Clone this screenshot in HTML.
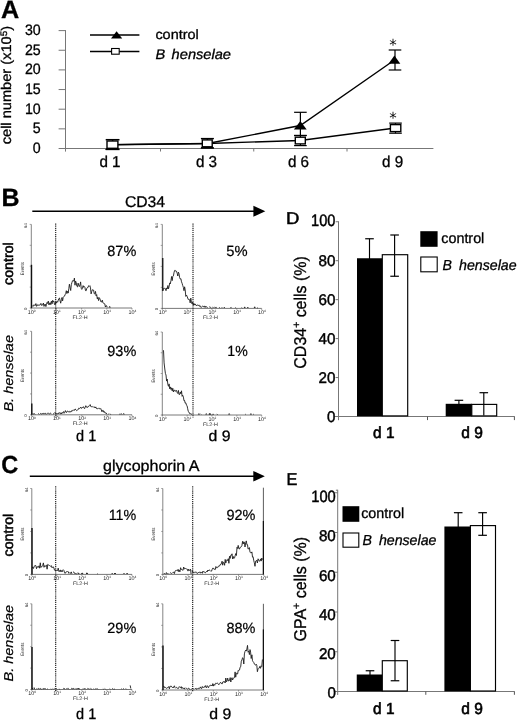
<!DOCTYPE html>
<html lang="en">
<head>
<meta charset="utf-8">
<title>Figure</title>
<style>
html,body{margin:0;padding:0;background:#fff;}
body{width:520px;height:721px;overflow:hidden;}
svg{display:block;font-family:'Liberation Sans', sans-serif;}
text{stroke:#000;stroke-width:.3px;}
</style>
</head>
<body>
<svg width="520" height="721" viewBox="0 0 520 721" font-family='"Liberation Sans", sans-serif' text-rendering="geometricPrecision">
<rect x="0" y="0" width="520" height="721" fill="#fff"/>
<text x="1.10" y="18.10" font-size="25.2" font-weight="bold">A</text>
<line x1="65.50" y1="30.10" x2="65.50" y2="151.60" stroke="#777" stroke-width="1"/>
<line x1="58.60" y1="148.50" x2="433.40" y2="148.50" stroke="#777" stroke-width="1"/>
<text x="40.70" y="153.05" font-size="15.2" text-anchor="end" textLength="7.90" lengthAdjust="spacingAndGlyphs">0</text>
<line x1="58.60" y1="128.85" x2="65.50" y2="128.85" stroke="#777" stroke-width="1"/>
<text x="40.70" y="133.40" font-size="15.2" text-anchor="end" textLength="7.90" lengthAdjust="spacingAndGlyphs">5</text>
<line x1="58.60" y1="109.20" x2="65.50" y2="109.20" stroke="#777" stroke-width="1"/>
<text x="40.70" y="113.75" font-size="15.2" text-anchor="end" textLength="15.80" lengthAdjust="spacingAndGlyphs">10</text>
<line x1="58.60" y1="89.55" x2="65.50" y2="89.55" stroke="#777" stroke-width="1"/>
<text x="40.70" y="94.10" font-size="15.2" text-anchor="end" textLength="15.80" lengthAdjust="spacingAndGlyphs">15</text>
<line x1="58.60" y1="69.90" x2="65.50" y2="69.90" stroke="#777" stroke-width="1"/>
<text x="40.70" y="74.45" font-size="15.2" text-anchor="end" textLength="15.80" lengthAdjust="spacingAndGlyphs">20</text>
<line x1="58.60" y1="50.25" x2="65.50" y2="50.25" stroke="#777" stroke-width="1"/>
<text x="40.70" y="54.80" font-size="15.2" text-anchor="end" textLength="15.80" lengthAdjust="spacingAndGlyphs">25</text>
<line x1="58.60" y1="30.60" x2="65.50" y2="30.60" stroke="#777" stroke-width="1"/>
<text x="40.70" y="35.15" font-size="15.2" text-anchor="end" textLength="15.80" lengthAdjust="spacingAndGlyphs">30</text>
<line x1="160.50" y1="148.50" x2="160.50" y2="151.50" stroke="#777" stroke-width="1"/>
<line x1="253.75" y1="148.50" x2="253.75" y2="151.50" stroke="#777" stroke-width="1"/>
<line x1="347.00" y1="148.50" x2="347.00" y2="151.50" stroke="#777" stroke-width="1"/>
<text transform="translate(11.40,144.30) rotate(-90)" x="0" y="0" font-size="14" textLength="118.40" lengthAdjust="spacingAndGlyphs">cell number (x10<tspan font-size="9.5" dy="-4.6">5</tspan><tspan dy="4.6">)</tspan></text>
<line x1="90.00" y1="35.00" x2="139.40" y2="35.00" stroke="#000" stroke-width="1.3"/>
<polygon points="116.6,31.3 111.0,38.4 122.2,38.4" fill="#000" stroke="none" stroke-width="1"/>
<line x1="90.00" y1="51.50" x2="139.40" y2="51.50" stroke="#000" stroke-width="1.3"/>
<rect x="111.60" y="48.50" width="7.60" height="5.70" fill="#fff" stroke="#000" stroke-width="1.1"/>
<text x="155.40" y="38.75" font-size="13.5" textLength="43.40" lengthAdjust="spacingAndGlyphs">control</text>
<text x="155.40" y="58.60" font-size="14" font-style="italic" textLength="75.60" lengthAdjust="spacingAndGlyphs">B<tspan dx="6.2">henselae</tspan></text>
<polyline points="112.5,144.7 207.5,143.5 300.3,125.5 395.2,59.5" fill="none" stroke="#000" stroke-width="1.4"/>
<polyline points="112.5,144.7 207.5,143.5 300.2,140.5 395.5,128.0" fill="none" stroke="#000" stroke-width="1.35"/>
<line x1="112.60" y1="139.70" x2="112.60" y2="149.40" stroke="#000" stroke-width="1.5"/>
<line x1="105.70" y1="139.70" x2="119.50" y2="139.70" stroke="#000" stroke-width="1.5"/>
<line x1="105.70" y1="149.40" x2="119.50" y2="149.40" stroke="#000" stroke-width="1.5"/>
<line x1="207.40" y1="138.60" x2="207.40" y2="147.90" stroke="#000" stroke-width="1.4"/>
<line x1="200.90" y1="138.60" x2="213.90" y2="138.60" stroke="#000" stroke-width="1.4"/>
<line x1="200.90" y1="147.90" x2="213.90" y2="147.90" stroke="#000" stroke-width="1.4"/>
<line x1="300.40" y1="112.30" x2="300.40" y2="135.60" stroke="#000" stroke-width="1.2"/>
<line x1="294.10" y1="112.30" x2="306.70" y2="112.30" stroke="#000" stroke-width="1.2"/>
<line x1="294.10" y1="135.60" x2="306.70" y2="135.60" stroke="#000" stroke-width="1.2"/>
<line x1="300.40" y1="135.40" x2="300.40" y2="145.60" stroke="#000" stroke-width="1.2"/>
<line x1="294.10" y1="135.40" x2="306.70" y2="135.40" stroke="#000" stroke-width="1.2"/>
<line x1="294.10" y1="145.60" x2="306.70" y2="145.60" stroke="#000" stroke-width="1.2"/>
<line x1="395.00" y1="50.00" x2="395.00" y2="70.00" stroke="#000" stroke-width="1.2"/>
<line x1="388.70" y1="50.00" x2="401.30" y2="50.00" stroke="#000" stroke-width="1.2"/>
<line x1="388.70" y1="70.00" x2="401.30" y2="70.00" stroke="#000" stroke-width="1.2"/>
<line x1="395.50" y1="123.10" x2="395.50" y2="133.20" stroke="#000" stroke-width="1.2"/>
<line x1="389.20" y1="123.10" x2="401.80" y2="123.10" stroke="#000" stroke-width="1.2"/>
<line x1="389.20" y1="133.20" x2="401.80" y2="133.20" stroke="#000" stroke-width="1.2"/>
<polygon points="112.4,142.0 105.1,150.0 119.7,150.0" fill="#000" stroke="none" stroke-width="1"/>
<polygon points="207.3,140.6 200.5,148.5 214.1,148.5" fill="#000" stroke="none" stroke-width="1"/>
<polygon points="300.3,121.0 293.9,129.4 306.7,129.4" fill="#000" stroke="none" stroke-width="1"/>
<polygon points="394.4,55.5 388.5,63.8 400.3,63.8" fill="#000" stroke="none" stroke-width="1"/>
<rect x="107.00" y="141.00" width="10.90" height="7.30" fill="#fff" stroke="#000" stroke-width="1.4"/>
<rect x="202.30" y="139.90" width="9.90" height="6.90" fill="#fff" stroke="#000" stroke-width="1.4"/>
<rect x="295.30" y="137.20" width="10.00" height="6.70" fill="#fff" stroke="#000" stroke-width="1.4"/>
<rect x="390.40" y="124.60" width="10.40" height="7.00" fill="#fff" stroke="#000" stroke-width="1.4"/>
<text x="393.10" y="49.70" font-size="15" text-anchor="middle" font-family="DejaVu Sans" style="stroke:none">*</text>
<text x="393.10" y="123.30" font-size="15" text-anchor="middle" font-family="DejaVu Sans" style="stroke:none">*</text>
<text x="110.00" y="167.20" font-size="15.8" text-anchor="middle" textLength="21.20" lengthAdjust="spacingAndGlyphs">d 1</text>
<text x="206.50" y="167.20" font-size="15.8" text-anchor="middle" textLength="21.20" lengthAdjust="spacingAndGlyphs">d 3</text>
<text x="298.50" y="167.20" font-size="15.8" text-anchor="middle" textLength="21.20" lengthAdjust="spacingAndGlyphs">d 6</text>
<text x="392.70" y="167.20" font-size="15.8" text-anchor="middle" textLength="21.20" lengthAdjust="spacingAndGlyphs">d 9</text>
<text x="1.60" y="206.00" font-size="25" font-weight="bold">B</text>
<line x1="32.30" y1="211.20" x2="254.40" y2="211.20" stroke="#000" stroke-width="1.45"/>
<polygon points="253.4,205.7 265.3,211.2 253.4,216.7" fill="#000" stroke="none" stroke-width="1"/>
<text x="124.90" y="206.70" font-size="15.5" textLength="40.20" lengthAdjust="spacingAndGlyphs">CD34</text>
<line x1="31.30" y1="224.40" x2="31.30" y2="308.50" stroke="#666" stroke-width="0.8"/>
<line x1="30.80" y1="308.00" x2="132.00" y2="308.00" stroke="#555" stroke-width="0.8"/>
<line x1="29.70" y1="308.00" x2="31.30" y2="308.00" stroke="#666" stroke-width="0.6"/>
<line x1="29.70" y1="287.10" x2="31.30" y2="287.10" stroke="#666" stroke-width="0.6"/>
<line x1="29.70" y1="266.20" x2="31.30" y2="266.20" stroke="#666" stroke-width="0.6"/>
<line x1="29.70" y1="245.30" x2="31.30" y2="245.30" stroke="#666" stroke-width="0.6"/>
<line x1="29.70" y1="224.40" x2="31.30" y2="224.40" stroke="#666" stroke-width="0.6"/>
<line x1="31.30" y1="308.00" x2="31.30" y2="309.60" stroke="#666" stroke-width="0.6"/>
<text x="31.60" y="313.60" font-size="5.4" text-anchor="middle" fill="#222" style="stroke:none">10<tspan font-size="3.2" dy="-1.8">0</tspan></text>
<line x1="56.48" y1="308.00" x2="56.48" y2="309.60" stroke="#666" stroke-width="0.6"/>
<text x="56.77" y="313.60" font-size="5.4" text-anchor="middle" fill="#222" style="stroke:none">10<tspan font-size="3.2" dy="-1.8">1</tspan></text>
<line x1="81.65" y1="308.00" x2="81.65" y2="309.60" stroke="#666" stroke-width="0.6"/>
<text x="81.95" y="313.60" font-size="5.4" text-anchor="middle" fill="#222" style="stroke:none">10<tspan font-size="3.2" dy="-1.8">2</tspan></text>
<line x1="106.83" y1="308.00" x2="106.83" y2="309.60" stroke="#666" stroke-width="0.6"/>
<text x="107.12" y="313.60" font-size="5.4" text-anchor="middle" fill="#222" style="stroke:none">10<tspan font-size="3.2" dy="-1.8">3</tspan></text>
<line x1="132.00" y1="308.00" x2="132.00" y2="309.60" stroke="#666" stroke-width="0.6"/>
<text x="132.30" y="313.60" font-size="5.4" text-anchor="middle" fill="#222" style="stroke:none">10<tspan font-size="3.2" dy="-1.8">4</tspan></text>
<text x="80.14" y="318.60" font-size="5.0" text-anchor="middle" textLength="15.00" lengthAdjust="spacingAndGlyphs" fill="#222" style="stroke:none">FL2-H</text>
<text transform="translate(23.70,268.71) rotate(-90)" x="0" y="0" font-size="4.9" text-anchor="middle" textLength="13.00" lengthAdjust="spacingAndGlyphs" fill="#2a2a2a" style="stroke:none">Events</text>
<text transform="translate(27.10,225.60) rotate(-90)" x="0" y="0" font-size="4.2" text-anchor="middle" fill="#222" style="stroke:none">64</text>
<text transform="translate(27.10,308.80) rotate(-90)" x="0" y="0" font-size="4.2" text-anchor="middle" fill="#222" style="stroke:none">0</text>
<polyline points="32.2,305.9 32.8,306.0 33.5,306.1 34.1,304.7 34.7,305.4 35.3,305.4 35.9,303.6 36.6,306.3 37.2,305.8 37.8,304.5 38.4,304.9 39.0,305.6 39.7,304.7 40.3,304.7 40.9,303.4 41.5,305.4 42.1,304.9 42.8,305.0 43.4,303.0 44.0,306.4 44.6,304.7 45.2,304.0 45.9,306.6 46.5,304.2 47.1,302.4 47.7,303.5 48.3,301.1 49.0,305.0 49.6,303.1 50.2,302.6 50.8,304.7 51.4,301.2 52.1,303.8 52.7,300.3 53.3,302.0 53.9,301.2 54.5,304.5 55.2,304.8 55.8,301.7 56.4,303.1 57.0,301.4 57.6,302.2 58.3,300.1 58.9,298.5 59.5,298.0 60.1,300.9 60.7,303.2 61.4,299.5 62.0,297.5 62.6,300.9 63.2,297.4 63.8,296.5 64.5,296.1 65.1,294.7 65.7,293.7 66.3,290.7 66.9,293.5 67.6,291.3 68.2,293.1 68.8,288.7 69.4,284.2 70.0,287.3 70.7,290.5 71.3,284.7 71.9,282.6 72.5,280.9 73.1,280.3 73.8,281.3 74.4,278.1 75.0,285.2 75.6,281.1 76.2,282.5 76.9,286.3 77.5,286.9 78.1,283.1 78.7,285.0 79.3,286.6 80.0,285.0 80.6,281.9 81.2,288.2 81.8,289.4 82.4,288.5 83.1,285.6 83.7,287.3 84.3,286.5 84.9,287.3 85.5,290.6 86.2,290.7 86.8,288.3 87.4,287.6 88.0,287.5 88.6,285.7 89.3,286.3 89.9,285.7 90.5,287.9 91.1,293.9 91.7,291.6 92.4,289.7 93.0,290.2 93.6,290.1 94.2,293.4 94.8,294.2 95.5,291.4 96.1,295.8 96.7,294.6 97.3,298.9 97.9,297.3 98.6,300.6 99.2,297.6 99.8,298.6 100.4,300.2 101.0,302.0 101.7,301.9 102.3,300.1 102.9,302.8 103.5,303.2 104.1,303.4 104.8,303.9 105.4,307.0 106.0,305.7 106.6,305.8 107.2,307.3" fill="none" stroke="#1c1c1c" stroke-width="0.9" stroke-linejoin="round"/>
<polyline points="109.2,307.6 109.7,306.4 110.2,307.6" fill="none" stroke="#1c1c1c" stroke-width="0.9" stroke-linejoin="round"/>
<line x1="31.50" y1="264.80" x2="31.50" y2="308.00" stroke="#111" stroke-width="1.4"/>
<line x1="162.30" y1="224.40" x2="162.30" y2="308.90" stroke="#666" stroke-width="0.8"/>
<line x1="161.80" y1="308.40" x2="261.70" y2="308.40" stroke="#555" stroke-width="0.8"/>
<line x1="160.70" y1="308.40" x2="162.30" y2="308.40" stroke="#666" stroke-width="0.6"/>
<line x1="160.70" y1="287.40" x2="162.30" y2="287.40" stroke="#666" stroke-width="0.6"/>
<line x1="160.70" y1="266.40" x2="162.30" y2="266.40" stroke="#666" stroke-width="0.6"/>
<line x1="160.70" y1="245.40" x2="162.30" y2="245.40" stroke="#666" stroke-width="0.6"/>
<line x1="160.70" y1="224.40" x2="162.30" y2="224.40" stroke="#666" stroke-width="0.6"/>
<line x1="162.30" y1="308.40" x2="162.30" y2="310.00" stroke="#666" stroke-width="0.6"/>
<text x="162.60" y="314.00" font-size="5.4" text-anchor="middle" fill="#222" style="stroke:none">10<tspan font-size="3.2" dy="-1.8">0</tspan></text>
<line x1="187.15" y1="308.40" x2="187.15" y2="310.00" stroke="#666" stroke-width="0.6"/>
<text x="187.45" y="314.00" font-size="5.4" text-anchor="middle" fill="#222" style="stroke:none">10<tspan font-size="3.2" dy="-1.8">1</tspan></text>
<line x1="212.00" y1="308.40" x2="212.00" y2="310.00" stroke="#666" stroke-width="0.6"/>
<text x="212.30" y="314.00" font-size="5.4" text-anchor="middle" fill="#222" style="stroke:none">10<tspan font-size="3.2" dy="-1.8">2</tspan></text>
<line x1="236.85" y1="308.40" x2="236.85" y2="310.00" stroke="#666" stroke-width="0.6"/>
<text x="237.15" y="314.00" font-size="5.4" text-anchor="middle" fill="#222" style="stroke:none">10<tspan font-size="3.2" dy="-1.8">3</tspan></text>
<line x1="261.70" y1="308.40" x2="261.70" y2="310.00" stroke="#666" stroke-width="0.6"/>
<text x="262.00" y="314.00" font-size="5.4" text-anchor="middle" fill="#222" style="stroke:none">10<tspan font-size="3.2" dy="-1.8">4</tspan></text>
<text x="210.51" y="319.00" font-size="5.0" text-anchor="middle" textLength="15.00" lengthAdjust="spacingAndGlyphs" fill="#222" style="stroke:none">FL2-H</text>
<text transform="translate(154.70,268.92) rotate(-90)" x="0" y="0" font-size="4.9" text-anchor="middle" textLength="13.00" lengthAdjust="spacingAndGlyphs" fill="#2a2a2a" style="stroke:none">Events</text>
<text transform="translate(158.10,225.60) rotate(-90)" x="0" y="0" font-size="4.2" text-anchor="middle" fill="#222" style="stroke:none">64</text>
<text transform="translate(158.10,309.20) rotate(-90)" x="0" y="0" font-size="4.2" text-anchor="middle" fill="#222" style="stroke:none">0</text>
<polyline points="162.9,290.7 163.5,288.5 164.1,288.7 164.8,288.2 165.4,288.6 166.0,290.7 166.6,287.9 167.2,289.0 167.9,285.5 168.5,288.8 169.1,286.6 169.7,282.9 170.3,283.9 171.0,280.4 171.6,276.5 172.2,280.6 172.8,276.3 173.4,275.9 174.1,272.2 174.7,270.4 175.3,270.4 175.9,271.5 176.5,271.3 177.2,273.3 177.8,276.0 178.4,272.1 179.0,273.6 179.6,277.5 180.3,279.1 180.9,278.7 181.5,281.8 182.1,283.3 182.7,285.4 183.4,287.5 184.0,290.7 184.6,286.8 185.2,289.9 185.8,296.4 186.5,295.1 187.1,296.3 187.7,298.0 188.3,299.6 188.9,299.2 189.6,299.7 190.2,302.9 190.8,298.1 191.4,302.2 192.0,303.8 192.7,302.2 193.3,305.4 193.9,303.5 194.5,305.1 195.1,303.9 195.8,304.9 196.4,305.8 197.0,305.0 197.6,304.9 198.2,305.6 198.9,304.9 199.5,306.3 200.1,306.3 200.7,306.0 201.3,307.9" fill="none" stroke="#1c1c1c" stroke-width="0.9" stroke-linejoin="round"/>
<polyline points="202.0,306.2 202.6,306.0 203.2,306.8 203.8,306.7 204.4,305.9 205.1,307.5 205.7,306.3 206.3,307.0 206.9,306.8 207.5,307.7" fill="none" stroke="#1c1c1c" stroke-width="0.9" stroke-linejoin="round"/>
<polyline points="209.4,307.1 210.0,306.7 210.6,307.5 211.3,308.0" fill="none" stroke="#1c1c1c" stroke-width="0.9" stroke-linejoin="round"/>
<polyline points="212.5,307.2 213.1,307.3 213.7,307.9" fill="none" stroke="#1c1c1c" stroke-width="0.9" stroke-linejoin="round"/>
<polyline points="214.4,307.3 215.0,307.1 215.6,307.5 216.2,307.3 216.8,307.9" fill="none" stroke="#1c1c1c" stroke-width="0.9" stroke-linejoin="round"/>
<polyline points="219.3,307.3 219.9,308.1" fill="none" stroke="#1c1c1c" stroke-width="0.9" stroke-linejoin="round"/>
<polyline points="221.8,307.3 222.4,308.0" fill="none" stroke="#1c1c1c" stroke-width="0.9" stroke-linejoin="round"/>
<polyline points="223.8,308.0 224.3,307.3 224.8,308.0" fill="none" stroke="#1c1c1c" stroke-width="0.9" stroke-linejoin="round"/>
<polyline points="230.5,307.6 231.1,307.4 231.7,308.0" fill="none" stroke="#1c1c1c" stroke-width="0.9" stroke-linejoin="round"/>
<polyline points="235.4,307.6 236.1,308.1" fill="none" stroke="#1c1c1c" stroke-width="0.9" stroke-linejoin="round"/>
<polyline points="241.6,307.6 242.3,308.1" fill="none" stroke="#1c1c1c" stroke-width="0.9" stroke-linejoin="round"/>
<polyline points="244.2,308.0 244.7,306.9 245.2,308.0" fill="none" stroke="#1c1c1c" stroke-width="0.9" stroke-linejoin="round"/>
<polyline points="247.3,308.0 247.8,307.2 248.3,308.0" fill="none" stroke="#1c1c1c" stroke-width="0.9" stroke-linejoin="round"/>
<polyline points="254.2,308.0 254.7,306.8 255.2,308.0" fill="none" stroke="#1c1c1c" stroke-width="0.9" stroke-linejoin="round"/>
<polyline points="257.1,307.6 257.8,308.1" fill="none" stroke="#1c1c1c" stroke-width="0.9" stroke-linejoin="round"/>
<line x1="162.70" y1="258.00" x2="162.70" y2="291.00" stroke="#222" stroke-width="1.5"/>
<line x1="31.60" y1="331.30" x2="31.60" y2="415.30" stroke="#666" stroke-width="0.8"/>
<line x1="31.10" y1="414.80" x2="132.00" y2="414.80" stroke="#555" stroke-width="0.8"/>
<line x1="30.00" y1="414.80" x2="31.60" y2="414.80" stroke="#666" stroke-width="0.6"/>
<line x1="30.00" y1="393.93" x2="31.60" y2="393.93" stroke="#666" stroke-width="0.6"/>
<line x1="30.00" y1="373.05" x2="31.60" y2="373.05" stroke="#666" stroke-width="0.6"/>
<line x1="30.00" y1="352.18" x2="31.60" y2="352.18" stroke="#666" stroke-width="0.6"/>
<line x1="30.00" y1="331.30" x2="31.60" y2="331.30" stroke="#666" stroke-width="0.6"/>
<line x1="31.60" y1="414.80" x2="31.60" y2="416.40" stroke="#666" stroke-width="0.6"/>
<text x="31.90" y="420.40" font-size="5.4" text-anchor="middle" fill="#222" style="stroke:none">10<tspan font-size="3.2" dy="-1.8">0</tspan></text>
<line x1="56.70" y1="414.80" x2="56.70" y2="416.40" stroke="#666" stroke-width="0.6"/>
<text x="57.00" y="420.40" font-size="5.4" text-anchor="middle" fill="#222" style="stroke:none">10<tspan font-size="3.2" dy="-1.8">1</tspan></text>
<line x1="81.80" y1="414.80" x2="81.80" y2="416.40" stroke="#666" stroke-width="0.6"/>
<text x="82.10" y="420.40" font-size="5.4" text-anchor="middle" fill="#222" style="stroke:none">10<tspan font-size="3.2" dy="-1.8">2</tspan></text>
<line x1="106.90" y1="414.80" x2="106.90" y2="416.40" stroke="#666" stroke-width="0.6"/>
<text x="107.20" y="420.40" font-size="5.4" text-anchor="middle" fill="#222" style="stroke:none">10<tspan font-size="3.2" dy="-1.8">3</tspan></text>
<line x1="132.00" y1="414.80" x2="132.00" y2="416.40" stroke="#666" stroke-width="0.6"/>
<text x="132.30" y="420.40" font-size="5.4" text-anchor="middle" fill="#222" style="stroke:none">10<tspan font-size="3.2" dy="-1.8">4</tspan></text>
<text x="80.29" y="425.40" font-size="5.0" text-anchor="middle" textLength="15.00" lengthAdjust="spacingAndGlyphs" fill="#222" style="stroke:none">FL2-H</text>
<text transform="translate(24.00,375.56) rotate(-90)" x="0" y="0" font-size="4.9" text-anchor="middle" textLength="13.00" lengthAdjust="spacingAndGlyphs" fill="#2a2a2a" style="stroke:none">Events</text>
<text transform="translate(27.40,332.50) rotate(-90)" x="0" y="0" font-size="4.2" text-anchor="middle" fill="#222" style="stroke:none">64</text>
<text transform="translate(27.40,415.60) rotate(-90)" x="0" y="0" font-size="4.2" text-anchor="middle" fill="#222" style="stroke:none">0</text>
<polyline points="31.9,413.3 32.5,414.1" fill="none" stroke="#1c1c1c" stroke-width="0.9" stroke-linejoin="round"/>
<polyline points="33.1,414.0 33.8,413.9 34.4,413.6 35.0,414.5" fill="none" stroke="#1c1c1c" stroke-width="0.9" stroke-linejoin="round"/>
<polyline points="38.1,413.8 38.7,413.7 39.3,414.4" fill="none" stroke="#1c1c1c" stroke-width="0.9" stroke-linejoin="round"/>
<polyline points="40.0,413.9 40.6,413.5 41.2,413.9 41.8,413.9 42.4,413.7 43.1,413.1 43.7,413.9 44.3,413.5 44.9,413.8 45.5,413.3 46.2,414.5" fill="none" stroke="#1c1c1c" stroke-width="0.9" stroke-linejoin="round"/>
<polyline points="46.8,413.8 47.4,413.2 48.0,413.5 48.6,413.3 49.3,413.9 49.9,413.5 50.5,413.2 51.1,413.6 51.7,414.2" fill="none" stroke="#1c1c1c" stroke-width="0.9" stroke-linejoin="round"/>
<polyline points="53.0,413.9 53.6,413.8 54.2,413.4 54.8,412.6 55.5,412.9 56.1,413.9 56.7,413.7 57.3,413.9 57.9,413.3 58.6,414.0 59.2,412.5 59.8,413.3 60.4,413.8 61.0,412.6 61.7,413.9 62.3,412.7 62.9,412.7 63.5,411.6 64.1,413.3 64.8,412.3 65.4,410.6 66.0,412.1 66.6,412.5 67.2,411.2 67.9,411.1 68.5,411.6 69.1,412.3 69.7,411.3 70.3,411.6 71.0,412.1 71.6,410.7 72.2,410.9 72.8,410.5 73.4,409.8 74.1,410.6 74.7,409.4 75.3,409.0 75.9,410.0 76.5,410.6 77.2,410.2 77.8,409.7 78.4,409.4 79.0,407.9 79.6,408.5 80.3,408.0 80.9,407.1 81.5,408.4 82.1,408.0 82.7,407.3 83.4,406.7 84.0,408.1 84.6,408.7 85.2,407.1 85.8,405.7 86.5,407.2 87.1,407.2 87.7,407.4 88.3,406.2 88.9,406.4 89.6,405.6 90.2,404.6 90.8,406.5 91.4,406.5 92.0,407.2 92.7,406.5 93.3,406.8 93.9,407.4 94.5,406.9 95.1,408.0 95.8,406.9 96.4,408.5 97.0,408.8 97.6,408.7 98.2,408.6 98.9,407.9 99.5,408.7 100.1,409.1 100.7,408.5 101.3,410.0 102.0,411.8 102.6,410.4 103.2,410.4 103.8,412.2 104.4,411.6 105.1,413.2 105.7,412.9 106.3,413.1 106.9,414.2" fill="none" stroke="#1c1c1c" stroke-width="0.9" stroke-linejoin="round"/>
<polyline points="108.2,413.9 108.8,414.1" fill="none" stroke="#1c1c1c" stroke-width="0.9" stroke-linejoin="round"/>
<polyline points="110.0,413.7 110.6,414.5" fill="none" stroke="#1c1c1c" stroke-width="0.9" stroke-linejoin="round"/>
<polyline points="119.3,414.0 119.9,414.4" fill="none" stroke="#1c1c1c" stroke-width="0.9" stroke-linejoin="round"/>
<polyline points="120.7,414.4 121.2,413.6 121.7,414.4" fill="none" stroke="#1c1c1c" stroke-width="0.9" stroke-linejoin="round"/>
<polyline points="123.2,414.4 123.7,413.5 124.2,414.4" fill="none" stroke="#1c1c1c" stroke-width="0.9" stroke-linejoin="round"/>
<line x1="31.80" y1="403.50" x2="31.80" y2="414.80" stroke="#111" stroke-width="1.4"/>
<line x1="162.30" y1="332.00" x2="162.30" y2="415.50" stroke="#666" stroke-width="0.8"/>
<line x1="161.80" y1="415.00" x2="261.70" y2="415.00" stroke="#555" stroke-width="0.8"/>
<line x1="160.70" y1="415.00" x2="162.30" y2="415.00" stroke="#666" stroke-width="0.6"/>
<line x1="160.70" y1="394.25" x2="162.30" y2="394.25" stroke="#666" stroke-width="0.6"/>
<line x1="160.70" y1="373.50" x2="162.30" y2="373.50" stroke="#666" stroke-width="0.6"/>
<line x1="160.70" y1="352.75" x2="162.30" y2="352.75" stroke="#666" stroke-width="0.6"/>
<line x1="160.70" y1="332.00" x2="162.30" y2="332.00" stroke="#666" stroke-width="0.6"/>
<line x1="162.30" y1="415.00" x2="162.30" y2="416.60" stroke="#666" stroke-width="0.6"/>
<text x="162.60" y="420.60" font-size="5.4" text-anchor="middle" fill="#222" style="stroke:none">10<tspan font-size="3.2" dy="-1.8">0</tspan></text>
<line x1="187.15" y1="415.00" x2="187.15" y2="416.60" stroke="#666" stroke-width="0.6"/>
<text x="187.45" y="420.60" font-size="5.4" text-anchor="middle" fill="#222" style="stroke:none">10<tspan font-size="3.2" dy="-1.8">1</tspan></text>
<line x1="212.00" y1="415.00" x2="212.00" y2="416.60" stroke="#666" stroke-width="0.6"/>
<text x="212.30" y="420.60" font-size="5.4" text-anchor="middle" fill="#222" style="stroke:none">10<tspan font-size="3.2" dy="-1.8">2</tspan></text>
<line x1="236.85" y1="415.00" x2="236.85" y2="416.60" stroke="#666" stroke-width="0.6"/>
<text x="237.15" y="420.60" font-size="5.4" text-anchor="middle" fill="#222" style="stroke:none">10<tspan font-size="3.2" dy="-1.8">3</tspan></text>
<line x1="261.70" y1="415.00" x2="261.70" y2="416.60" stroke="#666" stroke-width="0.6"/>
<text x="262.00" y="420.60" font-size="5.4" text-anchor="middle" fill="#222" style="stroke:none">10<tspan font-size="3.2" dy="-1.8">4</tspan></text>
<text x="210.51" y="425.60" font-size="5.0" text-anchor="middle" textLength="15.00" lengthAdjust="spacingAndGlyphs" fill="#222" style="stroke:none">FL2-H</text>
<text transform="translate(154.70,375.99) rotate(-90)" x="0" y="0" font-size="4.9" text-anchor="middle" textLength="13.00" lengthAdjust="spacingAndGlyphs" fill="#2a2a2a" style="stroke:none">Events</text>
<text transform="translate(158.10,333.20) rotate(-90)" x="0" y="0" font-size="4.2" text-anchor="middle" fill="#222" style="stroke:none">64</text>
<text transform="translate(158.10,415.80) rotate(-90)" x="0" y="0" font-size="4.2" text-anchor="middle" fill="#222" style="stroke:none">0</text>
<polyline points="162.9,350.9 163.5,350.5 164.1,362.9 164.8,369.0 165.4,373.4 166.0,375.0 166.6,381.1 167.2,379.0 167.9,384.7 168.5,386.3 169.1,383.9 169.7,388.8 170.3,386.9 171.0,389.5 171.6,387.8 172.2,390.9 172.8,388.3 173.4,392.0 174.1,390.0 174.7,390.3 175.3,391.4 175.9,390.3 176.5,390.5 177.2,392.6 177.8,393.5 178.4,390.4 179.0,394.5 179.6,394.5 180.3,392.0 180.9,393.8 181.5,390.8 182.1,396.3 182.7,395.2 183.4,397.1 184.0,400.8 184.6,400.5 185.2,403.2 185.8,402.8 186.5,405.2 187.1,405.9 187.7,408.8 188.3,411.5 188.9,412.0 189.6,413.6 190.2,413.6 190.8,413.8 191.4,414.1 192.0,414.6" fill="none" stroke="#1c1c1c" stroke-width="0.9" stroke-linejoin="round"/>
<polyline points="198.4,414.6 198.9,413.6 199.4,414.6" fill="none" stroke="#1c1c1c" stroke-width="0.9" stroke-linejoin="round"/>
<polyline points="200.7,414.0 201.3,414.4" fill="none" stroke="#1c1c1c" stroke-width="0.9" stroke-linejoin="round"/>
<polyline points="205.8,414.6 206.3,413.6 206.8,414.6" fill="none" stroke="#1c1c1c" stroke-width="0.9" stroke-linejoin="round"/>
<polyline points="208.9,414.6 209.4,413.6 209.9,414.6" fill="none" stroke="#1c1c1c" stroke-width="0.9" stroke-linejoin="round"/>
<polyline points="209.5,414.6 210.0,413.5 210.5,414.6" fill="none" stroke="#1c1c1c" stroke-width="0.9" stroke-linejoin="round"/>
<polyline points="210.6,414.2 211.3,414.7" fill="none" stroke="#1c1c1c" stroke-width="0.9" stroke-linejoin="round"/>
<polyline points="212.6,414.6 213.1,413.9 213.6,414.6" fill="none" stroke="#1c1c1c" stroke-width="0.9" stroke-linejoin="round"/>
<polyline points="216.8,413.9 217.5,414.7" fill="none" stroke="#1c1c1c" stroke-width="0.9" stroke-linejoin="round"/>
<polyline points="228.7,414.6 229.2,413.6 229.7,414.6" fill="none" stroke="#1c1c1c" stroke-width="0.9" stroke-linejoin="round"/>
<polyline points="245.4,414.2 246.0,414.7" fill="none" stroke="#1c1c1c" stroke-width="0.9" stroke-linejoin="round"/>
<polyline points="250.4,414.6 250.9,413.6 251.4,414.6" fill="none" stroke="#1c1c1c" stroke-width="0.9" stroke-linejoin="round"/>
<polyline points="253.4,414.2 254.0,414.7" fill="none" stroke="#1c1c1c" stroke-width="0.9" stroke-linejoin="round"/>
<line x1="55.70" y1="223.50" x2="55.70" y2="417.50" stroke="#111" stroke-width="1.1" stroke-dasharray="1.2 0.9"/>
<line x1="193.00" y1="223.50" x2="193.00" y2="417.50" stroke="#111" stroke-width="1.1" stroke-dasharray="1.2 0.9"/>
<text x="107.30" y="255.50" font-size="14.8" textLength="29.00" lengthAdjust="spacingAndGlyphs" style="stroke-width:.2px">87%</text>
<text x="226.30" y="255.50" font-size="14.8" textLength="21.30" lengthAdjust="spacingAndGlyphs" style="stroke-width:.2px">5%</text>
<text x="107.30" y="355.70" font-size="14.8" textLength="29.00" lengthAdjust="spacingAndGlyphs" style="stroke-width:.2px">93%</text>
<text x="227.30" y="355.70" font-size="14.8" textLength="20.40" lengthAdjust="spacingAndGlyphs" style="stroke-width:.2px">1%</text>
<text transform="translate(12.60,285.00) rotate(-90)" x="0" y="0" font-size="14.0" textLength="42.80" lengthAdjust="spacingAndGlyphs" style="stroke-width:.5px">control</text>
<text transform="translate(13.40,411.60) rotate(-90)" x="0" y="0" font-size="12.9" font-style="italic" textLength="76.60" lengthAdjust="spacingAndGlyphs" style="stroke-width:.2px">B. henselae</text>
<text x="86.20" y="441.30" font-size="15.2" text-anchor="middle" textLength="20.20" lengthAdjust="spacingAndGlyphs">d 1</text>
<text x="219.50" y="441.30" font-size="15.2" text-anchor="middle" textLength="22.00" lengthAdjust="spacingAndGlyphs">d 9</text>
<text x="1.30" y="473.10" font-size="24.8" font-weight="bold" textLength="17.00" lengthAdjust="spacingAndGlyphs">C</text>
<line x1="29.80" y1="476.30" x2="254.30" y2="476.30" stroke="#000" stroke-width="1.45"/>
<polygon points="253.3,471.0 264.8,476.3 253.3,481.6" fill="#000" stroke="none" stroke-width="1"/>
<text x="103.10" y="471.00" font-size="15.5" textLength="96.40" lengthAdjust="spacingAndGlyphs">glycophorin A</text>
<line x1="31.80" y1="488.50" x2="31.80" y2="574.90" stroke="#666" stroke-width="0.8"/>
<line x1="31.30" y1="574.40" x2="132.00" y2="574.40" stroke="#555" stroke-width="0.8"/>
<line x1="30.20" y1="574.40" x2="31.80" y2="574.40" stroke="#666" stroke-width="0.6"/>
<line x1="30.20" y1="552.92" x2="31.80" y2="552.92" stroke="#666" stroke-width="0.6"/>
<line x1="30.20" y1="531.45" x2="31.80" y2="531.45" stroke="#666" stroke-width="0.6"/>
<line x1="30.20" y1="509.98" x2="31.80" y2="509.98" stroke="#666" stroke-width="0.6"/>
<line x1="30.20" y1="488.50" x2="31.80" y2="488.50" stroke="#666" stroke-width="0.6"/>
<line x1="31.80" y1="574.40" x2="31.80" y2="576.00" stroke="#666" stroke-width="0.6"/>
<text x="32.10" y="580.00" font-size="5.4" text-anchor="middle" fill="#222" style="stroke:none">10<tspan font-size="3.2" dy="-1.8">0</tspan></text>
<line x1="56.85" y1="574.40" x2="56.85" y2="576.00" stroke="#666" stroke-width="0.6"/>
<text x="57.15" y="580.00" font-size="5.4" text-anchor="middle" fill="#222" style="stroke:none">10<tspan font-size="3.2" dy="-1.8">1</tspan></text>
<line x1="81.90" y1="574.40" x2="81.90" y2="576.00" stroke="#666" stroke-width="0.6"/>
<text x="82.20" y="580.00" font-size="5.4" text-anchor="middle" fill="#222" style="stroke:none">10<tspan font-size="3.2" dy="-1.8">2</tspan></text>
<line x1="106.95" y1="574.40" x2="106.95" y2="576.00" stroke="#666" stroke-width="0.6"/>
<text x="107.25" y="580.00" font-size="5.4" text-anchor="middle" fill="#222" style="stroke:none">10<tspan font-size="3.2" dy="-1.8">3</tspan></text>
<line x1="132.00" y1="574.40" x2="132.00" y2="576.00" stroke="#666" stroke-width="0.6"/>
<text x="132.30" y="580.00" font-size="5.4" text-anchor="middle" fill="#222" style="stroke:none">10<tspan font-size="3.2" dy="-1.8">4</tspan></text>
<text x="80.40" y="585.00" font-size="5.0" text-anchor="middle" textLength="15.00" lengthAdjust="spacingAndGlyphs" fill="#222" style="stroke:none">FL2-H</text>
<text transform="translate(24.20,534.03) rotate(-90)" x="0" y="0" font-size="4.9" text-anchor="middle" textLength="13.00" lengthAdjust="spacingAndGlyphs" fill="#2a2a2a" style="stroke:none">Events</text>
<text transform="translate(27.60,489.70) rotate(-90)" x="0" y="0" font-size="4.2" text-anchor="middle" fill="#222" style="stroke:none">64</text>
<text transform="translate(27.60,575.20) rotate(-90)" x="0" y="0" font-size="4.2" text-anchor="middle" fill="#222" style="stroke:none">0</text>
<polyline points="32.2,568.3 32.8,566.9 33.4,568.5 34.1,566.8 34.7,565.9 35.3,565.1 35.9,565.9 36.5,568.7 37.2,566.5 37.8,567.1 38.4,567.3 39.0,565.8 39.6,568.2 40.3,562.8 40.9,567.5 41.5,566.6 42.1,566.5 42.7,565.4 43.4,562.9 44.0,567.3 44.6,565.7 45.2,566.5 45.8,565.5 46.5,565.2 47.1,569.2 47.7,564.4 48.3,564.9 48.9,565.1 49.6,565.6 50.2,566.1 50.8,566.2 51.4,565.7 52.0,567.8 52.7,567.1 53.3,566.8 53.9,568.0 54.5,570.2 55.1,569.8 55.8,570.9 56.4,570.5 57.0,570.1 57.6,570.6 58.2,568.1 58.9,571.4 59.5,570.6 60.1,571.9 60.7,570.0 61.3,570.4 62.0,572.0 62.6,570.3 63.2,569.7 63.8,570.3 64.4,572.1 65.1,573.4 65.7,572.3 66.3,572.0 66.9,571.7 67.5,571.0 68.2,571.8 68.8,573.3 69.4,572.7 70.0,573.4 70.6,573.2 71.3,571.9 71.9,573.9" fill="none" stroke="#1c1c1c" stroke-width="0.9" stroke-linejoin="round"/>
<polyline points="73.1,572.1 73.7,571.9 74.4,573.3 75.0,573.2 75.6,573.5 76.2,573.6 76.8,573.9" fill="none" stroke="#1c1c1c" stroke-width="0.9" stroke-linejoin="round"/>
<polyline points="77.5,573.2 78.1,572.7 78.7,574.1" fill="none" stroke="#1c1c1c" stroke-width="0.9" stroke-linejoin="round"/>
<polyline points="79.3,573.5 79.9,574.1" fill="none" stroke="#1c1c1c" stroke-width="0.9" stroke-linejoin="round"/>
<polyline points="81.2,573.2 81.8,574.1" fill="none" stroke="#1c1c1c" stroke-width="0.9" stroke-linejoin="round"/>
<polyline points="81.9,574.0 82.4,572.9 82.9,574.0" fill="none" stroke="#1c1c1c" stroke-width="0.9" stroke-linejoin="round"/>
<polyline points="86.3,574.0 86.8,572.8 87.3,574.0" fill="none" stroke="#1c1c1c" stroke-width="0.9" stroke-linejoin="round"/>
<polyline points="86.9,574.0 87.4,573.3 87.9,574.0" fill="none" stroke="#1c1c1c" stroke-width="0.9" stroke-linejoin="round"/>
<polyline points="97.3,573.6 97.9,574.1" fill="none" stroke="#1c1c1c" stroke-width="0.9" stroke-linejoin="round"/>
<polyline points="111.7,574.0 112.2,573.3 112.7,574.0" fill="none" stroke="#1c1c1c" stroke-width="0.9" stroke-linejoin="round"/>
<polyline points="114.2,574.0 114.7,573.1 115.2,574.0" fill="none" stroke="#1c1c1c" stroke-width="0.9" stroke-linejoin="round"/>
<polyline points="114.8,574.0 115.3,573.2 115.8,574.0" fill="none" stroke="#1c1c1c" stroke-width="0.9" stroke-linejoin="round"/>
<polyline points="123.5,574.0 124.0,573.3 124.5,574.0" fill="none" stroke="#1c1c1c" stroke-width="0.9" stroke-linejoin="round"/>
<polyline points="126.6,574.0 127.1,573.1 127.6,574.0" fill="none" stroke="#1c1c1c" stroke-width="0.9" stroke-linejoin="round"/>
<line x1="32.00" y1="528.00" x2="32.00" y2="574.40" stroke="#111" stroke-width="1.4"/>
<line x1="162.80" y1="488.50" x2="162.80" y2="574.90" stroke="#666" stroke-width="0.8"/>
<line x1="162.30" y1="574.40" x2="263.80" y2="574.40" stroke="#555" stroke-width="0.8"/>
<line x1="161.20" y1="574.40" x2="162.80" y2="574.40" stroke="#666" stroke-width="0.6"/>
<line x1="161.20" y1="552.92" x2="162.80" y2="552.92" stroke="#666" stroke-width="0.6"/>
<line x1="161.20" y1="531.45" x2="162.80" y2="531.45" stroke="#666" stroke-width="0.6"/>
<line x1="161.20" y1="509.98" x2="162.80" y2="509.98" stroke="#666" stroke-width="0.6"/>
<line x1="161.20" y1="488.50" x2="162.80" y2="488.50" stroke="#666" stroke-width="0.6"/>
<line x1="162.80" y1="574.40" x2="162.80" y2="576.00" stroke="#666" stroke-width="0.6"/>
<text x="163.10" y="580.00" font-size="5.4" text-anchor="middle" fill="#222" style="stroke:none">10<tspan font-size="3.2" dy="-1.8">0</tspan></text>
<line x1="188.05" y1="574.40" x2="188.05" y2="576.00" stroke="#666" stroke-width="0.6"/>
<text x="188.35" y="580.00" font-size="5.4" text-anchor="middle" fill="#222" style="stroke:none">10<tspan font-size="3.2" dy="-1.8">1</tspan></text>
<line x1="213.30" y1="574.40" x2="213.30" y2="576.00" stroke="#666" stroke-width="0.6"/>
<text x="213.60" y="580.00" font-size="5.4" text-anchor="middle" fill="#222" style="stroke:none">10<tspan font-size="3.2" dy="-1.8">2</tspan></text>
<line x1="238.55" y1="574.40" x2="238.55" y2="576.00" stroke="#666" stroke-width="0.6"/>
<text x="238.85" y="580.00" font-size="5.4" text-anchor="middle" fill="#222" style="stroke:none">10<tspan font-size="3.2" dy="-1.8">3</tspan></text>
<line x1="263.80" y1="574.40" x2="263.80" y2="576.00" stroke="#666" stroke-width="0.6"/>
<text x="264.10" y="580.00" font-size="5.4" text-anchor="middle" fill="#222" style="stroke:none">10<tspan font-size="3.2" dy="-1.8">4</tspan></text>
<text x="211.79" y="585.00" font-size="5.0" text-anchor="middle" textLength="15.00" lengthAdjust="spacingAndGlyphs" fill="#222" style="stroke:none">FL2-H</text>
<text transform="translate(155.20,534.03) rotate(-90)" x="0" y="0" font-size="4.9" text-anchor="middle" textLength="13.00" lengthAdjust="spacingAndGlyphs" fill="#2a2a2a" style="stroke:none">Events</text>
<text transform="translate(158.60,489.70) rotate(-90)" x="0" y="0" font-size="4.2" text-anchor="middle" fill="#222" style="stroke:none">64</text>
<text transform="translate(158.60,575.20) rotate(-90)" x="0" y="0" font-size="4.2" text-anchor="middle" fill="#222" style="stroke:none">0</text>
<polyline points="163.8,573.5 164.4,573.5 165.1,573.6 165.7,573.9" fill="none" stroke="#1c1c1c" stroke-width="0.9" stroke-linejoin="round"/>
<polyline points="166.3,572.3 166.9,574.1" fill="none" stroke="#1c1c1c" stroke-width="0.9" stroke-linejoin="round"/>
<polyline points="167.5,573.3 168.2,574.1" fill="none" stroke="#1c1c1c" stroke-width="0.9" stroke-linejoin="round"/>
<polyline points="168.8,573.5 169.4,574.1" fill="none" stroke="#1c1c1c" stroke-width="0.9" stroke-linejoin="round"/>
<polyline points="170.0,573.3 170.6,572.8 171.3,573.3 171.9,573.9" fill="none" stroke="#1c1c1c" stroke-width="0.9" stroke-linejoin="round"/>
<polyline points="172.5,572.8 173.1,572.7 173.7,571.9 174.4,573.6 175.0,571.2 175.6,570.7 176.2,570.1 176.8,570.6 177.5,570.9 178.1,569.3 178.7,571.6 179.3,570.2 179.9,571.8 180.6,567.7 181.2,569.6 181.8,569.4 182.4,569.9 183.0,570.4 183.7,567.0 184.3,568.9 184.9,568.9 185.5,568.0 186.1,568.6 186.8,569.4 187.4,569.3 188.0,571.1 188.6,569.2 189.2,570.3 189.9,570.3 190.5,569.2 191.1,574.0" fill="none" stroke="#1c1c1c" stroke-width="0.9" stroke-linejoin="round"/>
<polyline points="191.7,570.8 192.3,570.6 193.0,573.1 193.6,572.1 194.2,572.6 194.8,572.2 195.4,572.3 196.1,571.8 196.7,572.6 197.3,573.6 197.9,572.7 198.5,572.5 199.2,572.5 199.8,571.8 200.4,573.2 201.0,572.1 201.6,572.5 202.3,573.3 202.9,571.2 203.5,571.9 204.1,571.5 204.7,572.5 205.4,572.8 206.0,571.9 206.6,571.4 207.2,572.0 207.8,570.0 208.5,571.0 209.1,569.9 209.7,570.2 210.3,570.7 210.9,571.3 211.6,571.0 212.2,569.3 212.8,568.1 213.4,568.2 214.0,569.4 214.7,569.2 215.3,569.5 215.9,566.5 216.5,567.8 217.1,568.0 217.8,567.3 218.4,566.1 219.0,566.3 219.6,566.0 220.2,564.5 220.9,564.5 221.5,563.0 222.1,561.2 222.7,565.2 223.3,562.2 224.0,562.7 224.6,565.3 225.2,559.4 225.8,563.0 226.4,560.6 227.1,559.7 227.7,560.7 228.3,558.7 228.9,563.3 229.5,556.3 230.2,558.4 230.8,555.2 231.4,555.3 232.0,553.8 232.6,558.9 233.3,556.5 233.9,558.5 234.5,557.9 235.1,555.9 235.7,553.6 236.4,555.5 237.0,547.3 237.6,548.5 238.2,545.4 238.8,548.6 239.5,549.0 240.1,547.3 240.7,547.2 241.3,546.7 241.9,545.6 242.6,541.3 243.2,544.0 243.8,541.8 244.4,542.2 245.0,547.0 245.7,542.6 246.3,540.9 246.9,544.7 247.5,544.7 248.1,549.1 248.8,548.6 249.4,547.6 250.0,552.1 250.6,552.8 251.2,553.0 251.9,551.9 252.5,557.1 253.1,556.7 253.7,560.2 254.3,562.7 255.0,566.3 255.6,561.2 256.2,561.2 256.8,560.2 257.4,563.0 258.1,558.8 258.7,560.2 259.3,561.1 259.9,561.2 260.5,558.9 261.2,561.1 261.8,558.0 262.4,559.8" fill="none" stroke="#1c1c1c" stroke-width="0.9" stroke-linejoin="round"/>
<line x1="263.40" y1="487.70" x2="263.40" y2="574.40" stroke="#333" stroke-width="0.8"/>
<line x1="263.40" y1="521.00" x2="263.40" y2="574.40" stroke="#111" stroke-width="1.25"/>
<line x1="31.80" y1="603.80" x2="31.80" y2="690.00" stroke="#666" stroke-width="0.8"/>
<line x1="31.30" y1="689.50" x2="132.00" y2="689.50" stroke="#555" stroke-width="0.8"/>
<line x1="30.20" y1="689.50" x2="31.80" y2="689.50" stroke="#666" stroke-width="0.6"/>
<line x1="30.20" y1="668.08" x2="31.80" y2="668.08" stroke="#666" stroke-width="0.6"/>
<line x1="30.20" y1="646.65" x2="31.80" y2="646.65" stroke="#666" stroke-width="0.6"/>
<line x1="30.20" y1="625.22" x2="31.80" y2="625.22" stroke="#666" stroke-width="0.6"/>
<line x1="30.20" y1="603.80" x2="31.80" y2="603.80" stroke="#666" stroke-width="0.6"/>
<line x1="31.80" y1="689.50" x2="31.80" y2="691.10" stroke="#666" stroke-width="0.6"/>
<text x="32.10" y="695.10" font-size="5.4" text-anchor="middle" fill="#222" style="stroke:none">10<tspan font-size="3.2" dy="-1.8">0</tspan></text>
<line x1="56.85" y1="689.50" x2="56.85" y2="691.10" stroke="#666" stroke-width="0.6"/>
<text x="57.15" y="695.10" font-size="5.4" text-anchor="middle" fill="#222" style="stroke:none">10<tspan font-size="3.2" dy="-1.8">1</tspan></text>
<line x1="81.90" y1="689.50" x2="81.90" y2="691.10" stroke="#666" stroke-width="0.6"/>
<text x="82.20" y="695.10" font-size="5.4" text-anchor="middle" fill="#222" style="stroke:none">10<tspan font-size="3.2" dy="-1.8">2</tspan></text>
<line x1="106.95" y1="689.50" x2="106.95" y2="691.10" stroke="#666" stroke-width="0.6"/>
<text x="107.25" y="695.10" font-size="5.4" text-anchor="middle" fill="#222" style="stroke:none">10<tspan font-size="3.2" dy="-1.8">3</tspan></text>
<line x1="132.00" y1="689.50" x2="132.00" y2="691.10" stroke="#666" stroke-width="0.6"/>
<text x="132.30" y="695.10" font-size="5.4" text-anchor="middle" fill="#222" style="stroke:none">10<tspan font-size="3.2" dy="-1.8">4</tspan></text>
<text x="80.40" y="700.10" font-size="5.0" text-anchor="middle" textLength="15.00" lengthAdjust="spacingAndGlyphs" fill="#222" style="stroke:none">FL2-H</text>
<text transform="translate(24.20,649.22) rotate(-90)" x="0" y="0" font-size="4.9" text-anchor="middle" textLength="13.00" lengthAdjust="spacingAndGlyphs" fill="#2a2a2a" style="stroke:none">Events</text>
<text transform="translate(27.60,605.00) rotate(-90)" x="0" y="0" font-size="4.2" text-anchor="middle" fill="#222" style="stroke:none">64</text>
<text transform="translate(27.60,690.30) rotate(-90)" x="0" y="0" font-size="4.2" text-anchor="middle" fill="#222" style="stroke:none">0</text>
<polyline points="32.2,688.0 32.8,689.1" fill="none" stroke="#1c1c1c" stroke-width="0.9" stroke-linejoin="round"/>
<polyline points="33.4,688.4 34.1,687.7 34.7,689.2" fill="none" stroke="#1c1c1c" stroke-width="0.9" stroke-linejoin="round"/>
<polyline points="36.5,688.7 37.2,688.8" fill="none" stroke="#1c1c1c" stroke-width="0.9" stroke-linejoin="round"/>
<polyline points="37.8,688.6 38.4,688.4 39.0,689.2" fill="none" stroke="#1c1c1c" stroke-width="0.9" stroke-linejoin="round"/>
<polyline points="39.6,688.6 40.3,688.6 40.9,688.6 41.5,689.2" fill="none" stroke="#1c1c1c" stroke-width="0.9" stroke-linejoin="round"/>
<polyline points="42.7,688.7 43.4,688.9" fill="none" stroke="#1c1c1c" stroke-width="0.9" stroke-linejoin="round"/>
<polyline points="43.5,689.1 44.0,688.3 44.5,689.1" fill="none" stroke="#1c1c1c" stroke-width="0.9" stroke-linejoin="round"/>
<polyline points="45.2,688.3 45.8,689.2" fill="none" stroke="#1c1c1c" stroke-width="0.9" stroke-linejoin="round"/>
<polyline points="47.1,688.7 47.7,688.9" fill="none" stroke="#1c1c1c" stroke-width="0.9" stroke-linejoin="round"/>
<polyline points="50.8,688.7 51.4,689.2" fill="none" stroke="#1c1c1c" stroke-width="0.9" stroke-linejoin="round"/>
<polyline points="52.7,688.5 53.3,688.9" fill="none" stroke="#1c1c1c" stroke-width="0.9" stroke-linejoin="round"/>
<polyline points="54.5,688.4 55.1,688.9" fill="none" stroke="#1c1c1c" stroke-width="0.9" stroke-linejoin="round"/>
<polyline points="56.4,688.4 57.0,688.9" fill="none" stroke="#1c1c1c" stroke-width="0.9" stroke-linejoin="round"/>
<polyline points="58.9,688.6 59.5,689.2" fill="none" stroke="#1c1c1c" stroke-width="0.9" stroke-linejoin="round"/>
<polyline points="63.2,688.3 63.8,688.5 64.4,688.6 65.1,688.9" fill="none" stroke="#1c1c1c" stroke-width="0.9" stroke-linejoin="round"/>
<polyline points="66.3,688.2 66.9,688.8" fill="none" stroke="#1c1c1c" stroke-width="0.9" stroke-linejoin="round"/>
<polyline points="67.5,688.4 68.2,688.3 68.8,689.2" fill="none" stroke="#1c1c1c" stroke-width="0.9" stroke-linejoin="round"/>
<polyline points="71.3,688.5 71.9,688.0 72.5,689.2" fill="none" stroke="#1c1c1c" stroke-width="0.9" stroke-linejoin="round"/>
<polyline points="73.1,688.7 73.7,688.3 74.4,689.1" fill="none" stroke="#1c1c1c" stroke-width="0.9" stroke-linejoin="round"/>
<polyline points="75.6,688.5 76.2,688.7 76.8,688.9" fill="none" stroke="#1c1c1c" stroke-width="0.9" stroke-linejoin="round"/>
<polyline points="77.6,689.1 78.1,688.0 78.6,689.1" fill="none" stroke="#1c1c1c" stroke-width="0.9" stroke-linejoin="round"/>
<polyline points="78.7,688.7 79.3,688.7 79.9,689.1" fill="none" stroke="#1c1c1c" stroke-width="0.9" stroke-linejoin="round"/>
<polyline points="83.0,688.4 83.7,689.2" fill="none" stroke="#1c1c1c" stroke-width="0.9" stroke-linejoin="round"/>
<polyline points="84.3,688.3 84.9,689.0" fill="none" stroke="#1c1c1c" stroke-width="0.9" stroke-linejoin="round"/>
<polyline points="85.5,688.6 86.1,689.1" fill="none" stroke="#1c1c1c" stroke-width="0.9" stroke-linejoin="round"/>
<polyline points="87.4,688.3 88.0,688.9" fill="none" stroke="#1c1c1c" stroke-width="0.9" stroke-linejoin="round"/>
<polyline points="88.6,688.2 89.2,689.2" fill="none" stroke="#1c1c1c" stroke-width="0.9" stroke-linejoin="round"/>
<polyline points="90.5,688.4 91.1,688.7 91.7,689.2" fill="none" stroke="#1c1c1c" stroke-width="0.9" stroke-linejoin="round"/>
<polyline points="93.6,688.7 94.2,689.0" fill="none" stroke="#1c1c1c" stroke-width="0.9" stroke-linejoin="round"/>
<polyline points="95.4,688.7 96.1,688.9" fill="none" stroke="#1c1c1c" stroke-width="0.9" stroke-linejoin="round"/>
<polyline points="96.7,688.6 97.3,688.6 97.9,689.2" fill="none" stroke="#1c1c1c" stroke-width="0.9" stroke-linejoin="round"/>
<polyline points="102.9,688.7 103.5,689.2" fill="none" stroke="#1c1c1c" stroke-width="0.9" stroke-linejoin="round"/>
<polyline points="104.7,688.5 105.4,689.0" fill="none" stroke="#1c1c1c" stroke-width="0.9" stroke-linejoin="round"/>
<polyline points="109.7,688.6 110.3,689.1" fill="none" stroke="#1c1c1c" stroke-width="0.9" stroke-linejoin="round"/>
<polyline points="112.2,688.5 112.8,688.7 113.4,689.2" fill="none" stroke="#1c1c1c" stroke-width="0.9" stroke-linejoin="round"/>
<polyline points="114.0,688.7 114.7,689.2" fill="none" stroke="#1c1c1c" stroke-width="0.9" stroke-linejoin="round"/>
<polyline points="121.5,688.7 122.1,689.1" fill="none" stroke="#1c1c1c" stroke-width="0.9" stroke-linejoin="round"/>
<polyline points="123.3,688.5 124.0,689.1" fill="none" stroke="#1c1c1c" stroke-width="0.9" stroke-linejoin="round"/>
<polyline points="125.8,688.5 126.4,689.2" fill="none" stroke="#1c1c1c" stroke-width="0.9" stroke-linejoin="round"/>
<polyline points="130.2,685.4 130.8,688.5" fill="none" stroke="#1c1c1c" stroke-width="0.9" stroke-linejoin="round"/>
<line x1="32.00" y1="647.00" x2="32.00" y2="689.50" stroke="#111" stroke-width="1.4"/>
<line x1="162.80" y1="603.80" x2="162.80" y2="690.50" stroke="#666" stroke-width="0.8"/>
<line x1="162.30" y1="690.00" x2="263.80" y2="690.00" stroke="#555" stroke-width="0.8"/>
<line x1="161.20" y1="690.00" x2="162.80" y2="690.00" stroke="#666" stroke-width="0.6"/>
<line x1="161.20" y1="668.45" x2="162.80" y2="668.45" stroke="#666" stroke-width="0.6"/>
<line x1="161.20" y1="646.90" x2="162.80" y2="646.90" stroke="#666" stroke-width="0.6"/>
<line x1="161.20" y1="625.35" x2="162.80" y2="625.35" stroke="#666" stroke-width="0.6"/>
<line x1="161.20" y1="603.80" x2="162.80" y2="603.80" stroke="#666" stroke-width="0.6"/>
<line x1="162.80" y1="690.00" x2="162.80" y2="691.60" stroke="#666" stroke-width="0.6"/>
<text x="163.10" y="695.60" font-size="5.4" text-anchor="middle" fill="#222" style="stroke:none">10<tspan font-size="3.2" dy="-1.8">0</tspan></text>
<line x1="188.05" y1="690.00" x2="188.05" y2="691.60" stroke="#666" stroke-width="0.6"/>
<text x="188.35" y="695.60" font-size="5.4" text-anchor="middle" fill="#222" style="stroke:none">10<tspan font-size="3.2" dy="-1.8">1</tspan></text>
<line x1="213.30" y1="690.00" x2="213.30" y2="691.60" stroke="#666" stroke-width="0.6"/>
<text x="213.60" y="695.60" font-size="5.4" text-anchor="middle" fill="#222" style="stroke:none">10<tspan font-size="3.2" dy="-1.8">2</tspan></text>
<line x1="238.55" y1="690.00" x2="238.55" y2="691.60" stroke="#666" stroke-width="0.6"/>
<text x="238.85" y="695.60" font-size="5.4" text-anchor="middle" fill="#222" style="stroke:none">10<tspan font-size="3.2" dy="-1.8">3</tspan></text>
<line x1="263.80" y1="690.00" x2="263.80" y2="691.60" stroke="#666" stroke-width="0.6"/>
<text x="264.10" y="695.60" font-size="5.4" text-anchor="middle" fill="#222" style="stroke:none">10<tspan font-size="3.2" dy="-1.8">4</tspan></text>
<text x="211.79" y="700.60" font-size="5.0" text-anchor="middle" textLength="15.00" lengthAdjust="spacingAndGlyphs" fill="#222" style="stroke:none">FL2-H</text>
<text transform="translate(155.20,649.49) rotate(-90)" x="0" y="0" font-size="4.9" text-anchor="middle" textLength="13.00" lengthAdjust="spacingAndGlyphs" fill="#2a2a2a" style="stroke:none">Events</text>
<text transform="translate(158.60,605.00) rotate(-90)" x="0" y="0" font-size="4.2" text-anchor="middle" fill="#222" style="stroke:none">64</text>
<text transform="translate(158.60,690.80) rotate(-90)" x="0" y="0" font-size="4.2" text-anchor="middle" fill="#222" style="stroke:none">0</text>
<polyline points="163.2,686.6 163.8,686.0 164.4,687.7 165.1,687.4 165.7,687.6 166.3,688.4 166.9,688.1 167.5,687.9 168.2,687.0 168.8,686.6 169.4,688.8 170.0,686.2 170.6,686.3 171.3,686.2 171.9,687.2 172.5,687.4 173.1,688.0 173.7,687.0 174.4,685.8 175.0,687.6 175.6,688.2 176.2,687.5 176.8,687.4 177.5,688.0 178.1,688.7 178.7,687.6 179.3,686.6 179.9,687.4 180.6,687.7 181.2,686.6 181.8,688.5 182.4,687.5 183.0,688.5 183.7,688.3 184.3,688.0 184.9,689.4" fill="none" stroke="#1c1c1c" stroke-width="0.9" stroke-linejoin="round"/>
<polyline points="185.5,688.0 186.1,688.0 186.8,688.7 187.4,689.1 188.0,688.6 188.6,688.1 189.2,689.2 189.9,689.2 190.5,689.7" fill="none" stroke="#1c1c1c" stroke-width="0.9" stroke-linejoin="round"/>
<polyline points="191.1,688.9 191.7,689.2 192.3,688.8 193.0,688.4 193.6,689.2 194.2,689.6" fill="none" stroke="#1c1c1c" stroke-width="0.9" stroke-linejoin="round"/>
<polyline points="194.8,688.5 195.4,688.6 196.1,688.2 196.7,689.7" fill="none" stroke="#1c1c1c" stroke-width="0.9" stroke-linejoin="round"/>
<polyline points="197.3,688.4 197.9,689.1 198.5,688.2 199.2,688.7 199.8,688.2 200.4,686.9 201.0,688.4 201.6,688.6 202.3,686.5 202.9,687.7 203.5,687.4 204.1,686.7 204.7,687.2 205.4,685.6 206.0,687.3 206.6,687.9 207.2,685.6 207.8,686.5 208.5,687.7 209.1,686.3 209.7,685.5 210.3,685.0 210.9,685.8 211.6,685.4 212.2,686.0 212.8,683.6 213.4,686.1 214.0,684.4 214.7,685.3 215.3,683.7 215.9,682.9 216.5,683.5 217.1,682.9 217.8,683.4 218.4,684.4 219.0,684.7 219.6,683.6 220.2,682.6 220.9,682.5 221.5,683.6 222.1,684.0 222.7,682.1 223.3,682.2 224.0,681.2 224.6,682.2 225.2,683.0 225.8,678.0 226.4,681.8 227.1,680.6 227.7,678.1 228.3,681.2 228.9,680.2 229.5,680.4 230.2,677.6 230.8,682.0 231.4,678.8 232.0,677.7 232.6,680.0 233.3,678.2 233.9,677.8 234.5,677.6 235.1,671.9 235.7,677.2 236.4,673.2 237.0,673.6 237.6,674.0 238.2,670.3 238.8,670.6 239.5,670.1 240.1,667.2 240.7,666.8 241.3,661.2 241.9,660.0 242.6,657.7 243.2,658.6 243.8,664.0 244.4,653.9 245.0,651.4 245.7,650.1 246.3,651.1 246.9,649.0 247.5,645.4 248.1,652.2 248.8,651.2 249.4,654.6 250.0,649.6 250.6,652.2 251.2,658.5 251.9,654.8 252.5,660.7 253.1,661.7 253.7,662.4 254.3,663.9 255.0,664.4 255.6,665.3 256.2,664.2 256.8,665.4 257.4,671.7 258.1,668.7 258.7,668.1 259.3,668.0 259.9,666.3 260.5,668.3 261.2,665.8 261.8,666.5 262.4,659.5" fill="none" stroke="#1c1c1c" stroke-width="0.9" stroke-linejoin="round"/>
<line x1="163.00" y1="645.60" x2="163.00" y2="690.00" stroke="#111" stroke-width="1.4"/>
<line x1="263.40" y1="603.80" x2="263.40" y2="690.00" stroke="#333" stroke-width="0.8"/>
<line x1="263.40" y1="629.40" x2="263.40" y2="690.00" stroke="#111" stroke-width="1.25"/>
<line x1="55.70" y1="486.30" x2="55.70" y2="692.00" stroke="#111" stroke-width="1.1" stroke-dasharray="1.2 0.9"/>
<line x1="192.70" y1="486.30" x2="192.70" y2="692.00" stroke="#111" stroke-width="1.1" stroke-dasharray="1.2 0.9"/>
<text x="108.70" y="520.10" font-size="14.8" textLength="27.60" lengthAdjust="spacingAndGlyphs" style="stroke-width:.2px">11%</text>
<text x="226.50" y="520.10" font-size="14.8" textLength="29.00" lengthAdjust="spacingAndGlyphs" style="stroke-width:.2px">92%</text>
<text x="107.30" y="633.10" font-size="14.8" textLength="29.00" lengthAdjust="spacingAndGlyphs" style="stroke-width:.2px">29%</text>
<text x="226.50" y="633.10" font-size="14.8" textLength="29.00" lengthAdjust="spacingAndGlyphs" style="stroke-width:.2px">88%</text>
<text transform="translate(12.60,556.50) rotate(-90)" x="0" y="0" font-size="14.0" textLength="42.80" lengthAdjust="spacingAndGlyphs" style="stroke-width:.5px">control</text>
<text transform="translate(13.40,681.50) rotate(-90)" x="0" y="0" font-size="12.9" font-style="italic" textLength="76.60" lengthAdjust="spacingAndGlyphs" style="stroke-width:.2px">B. henselae</text>
<text x="86.20" y="719.10" font-size="15.2" text-anchor="middle" textLength="20.20" lengthAdjust="spacingAndGlyphs">d 1</text>
<text x="220.20" y="719.10" font-size="15.2" text-anchor="middle" textLength="22.00" lengthAdjust="spacingAndGlyphs">d 9</text>
<text x="286.10" y="223.80" font-size="17.2" textLength="13.40" lengthAdjust="spacingAndGlyphs" style="stroke-width:.5px">D</text>
<line x1="338.50" y1="221.30" x2="338.50" y2="420.20" stroke="#777" stroke-width="1"/>
<line x1="334.50" y1="416.50" x2="514.70" y2="416.50" stroke="#777" stroke-width="1"/>
<line x1="335.60" y1="416.50" x2="338.50" y2="416.50" stroke="#777" stroke-width="1"/>
<text x="335.40" y="421.90" font-size="15.6" text-anchor="end" textLength="8.40" lengthAdjust="spacingAndGlyphs" style="stroke-width:.45px">0</text>
<line x1="335.60" y1="377.55" x2="338.50" y2="377.55" stroke="#777" stroke-width="1"/>
<text x="335.40" y="382.95" font-size="15.6" text-anchor="end" textLength="16.90" lengthAdjust="spacingAndGlyphs" style="stroke-width:.45px">20</text>
<line x1="335.60" y1="338.60" x2="338.50" y2="338.60" stroke="#777" stroke-width="1"/>
<text x="335.40" y="344.00" font-size="15.6" text-anchor="end" textLength="16.90" lengthAdjust="spacingAndGlyphs" style="stroke-width:.45px">40</text>
<line x1="335.60" y1="299.65" x2="338.50" y2="299.65" stroke="#777" stroke-width="1"/>
<text x="335.40" y="305.05" font-size="15.6" text-anchor="end" textLength="16.90" lengthAdjust="spacingAndGlyphs" style="stroke-width:.45px">60</text>
<line x1="335.60" y1="260.70" x2="338.50" y2="260.70" stroke="#777" stroke-width="1"/>
<text x="335.40" y="266.10" font-size="15.6" text-anchor="end" textLength="16.90" lengthAdjust="spacingAndGlyphs" style="stroke-width:.45px">80</text>
<line x1="335.60" y1="221.75" x2="338.50" y2="221.75" stroke="#777" stroke-width="1"/>
<text x="335.40" y="225.85" font-size="16.6" text-anchor="end" textLength="24.40" lengthAdjust="spacingAndGlyphs" style="stroke-width:.45px">100</text>
<line x1="427.50" y1="416.50" x2="427.50" y2="420.10" stroke="#555" stroke-width="1"/>
<line x1="514.40" y1="416.50" x2="514.40" y2="420.10" stroke="#555" stroke-width="1"/>
<text transform="translate(305.60,368.70) rotate(-90)" x="0" y="0" font-size="17" textLength="112.60" lengthAdjust="spacingAndGlyphs">CD34<tspan font-size="11" dy="-5.6">+</tspan><tspan dy="5.6"> cells (%)</tspan></text>
<rect x="357.00" y="258.25" width="25.50" height="158.05" fill="#000"/>
<rect x="382.30" y="254.70" width="25.40" height="161.20" fill="#fff" stroke="#000" stroke-width="1.15"/>
<line x1="369.50" y1="238.75" x2="369.50" y2="259.00" stroke="#000" stroke-width="1.15"/>
<line x1="365.20" y1="238.75" x2="373.80" y2="238.75" stroke="#000" stroke-width="1.2"/>
<line x1="394.60" y1="235.00" x2="394.60" y2="276.25" stroke="#000" stroke-width="1.15"/>
<line x1="390.30" y1="235.00" x2="398.90" y2="235.00" stroke="#000" stroke-width="1.2"/>
<line x1="390.30" y1="276.25" x2="398.90" y2="276.25" stroke="#000" stroke-width="1.2"/>
<rect x="445.70" y="403.80" width="26.30" height="12.50" fill="#000"/>
<rect x="471.80" y="404.40" width="24.90" height="11.50" fill="#fff" stroke="#000" stroke-width="1.15"/>
<line x1="458.90" y1="400.30" x2="458.90" y2="404.50" stroke="#000" stroke-width="1.15"/>
<line x1="454.60" y1="400.30" x2="463.20" y2="400.30" stroke="#000" stroke-width="1.2"/>
<line x1="483.80" y1="392.70" x2="483.80" y2="415.60" stroke="#000" stroke-width="1.15"/>
<line x1="479.50" y1="392.70" x2="488.10" y2="392.70" stroke="#000" stroke-width="1.2"/>
<rect x="420.3" y="231.2" width="17.3" height="15.6" fill="#000"/>
<rect x="420.80" y="257.00" width="16.40" height="14.80" fill="#fff" stroke="#000" stroke-width="1.1"/>
<text x="441.30" y="243.30" font-size="14.5" textLength="43.00" lengthAdjust="spacingAndGlyphs">control</text>
<text x="442.60" y="270.00" font-size="14.5" font-style="italic" textLength="74.00" lengthAdjust="spacingAndGlyphs">B henselae</text>
<text x="383.80" y="438.20" font-size="16" text-anchor="middle" textLength="21.40" lengthAdjust="spacingAndGlyphs" style="stroke-width:.6px">d 1</text>
<text x="472.00" y="438.10" font-size="16" text-anchor="middle" textLength="21.60" lengthAdjust="spacingAndGlyphs" style="stroke-width:.6px">d 9</text>
<text x="286.40" y="485.30" font-size="17.2" textLength="10.90" lengthAdjust="spacingAndGlyphs" style="stroke-width:.5px">E</text>
<line x1="337.70" y1="489.80" x2="337.70" y2="695.00" stroke="#777" stroke-width="1"/>
<line x1="335.90" y1="490.20" x2="337.70" y2="490.20" stroke="#777" stroke-width="1"/>
<line x1="334.50" y1="691.50" x2="514.70" y2="691.50" stroke="#777" stroke-width="1"/>
<text x="335.80" y="698.35" font-size="15.6" text-anchor="end" textLength="8.40" lengthAdjust="spacingAndGlyphs" style="stroke-width:.45px">0</text>
<line x1="334.80" y1="651.75" x2="337.70" y2="651.75" stroke="#777" stroke-width="1"/>
<text x="335.80" y="659.10" font-size="15.6" text-anchor="end" textLength="16.90" lengthAdjust="spacingAndGlyphs" style="stroke-width:.45px">20</text>
<line x1="334.80" y1="612.00" x2="337.70" y2="612.00" stroke="#777" stroke-width="1"/>
<text x="335.80" y="619.80" font-size="15.6" text-anchor="end" textLength="16.90" lengthAdjust="spacingAndGlyphs" style="stroke-width:.45px">40</text>
<line x1="334.80" y1="572.25" x2="337.70" y2="572.25" stroke="#777" stroke-width="1"/>
<text x="335.80" y="580.50" font-size="15.6" text-anchor="end" textLength="16.90" lengthAdjust="spacingAndGlyphs" style="stroke-width:.45px">60</text>
<line x1="334.80" y1="532.50" x2="337.70" y2="532.50" stroke="#777" stroke-width="1"/>
<text x="335.80" y="541.20" font-size="15.6" text-anchor="end" textLength="16.90" lengthAdjust="spacingAndGlyphs" style="stroke-width:.45px">80</text>
<line x1="334.80" y1="492.75" x2="337.70" y2="492.75" stroke="#777" stroke-width="1"/>
<text x="335.80" y="501.90" font-size="16.4" text-anchor="end" textLength="24.60" lengthAdjust="spacingAndGlyphs" style="stroke-width:.45px">100</text>
<line x1="425.80" y1="691.50" x2="425.80" y2="694.80" stroke="#555" stroke-width="1"/>
<line x1="514.40" y1="691.50" x2="514.40" y2="694.80" stroke="#555" stroke-width="1"/>
<text transform="translate(305.60,641.60) rotate(-90)" x="0" y="0" font-size="17" textLength="104.80" lengthAdjust="spacingAndGlyphs">GPA<tspan font-size="11" dy="-5.6">+</tspan><tspan dy="5.6"> cells (%)</tspan></text>
<rect x="356.75" y="674.50" width="25.75" height="16.90" fill="#000"/>
<rect x="382.30" y="660.70" width="25.00" height="30.30" fill="#fff" stroke="#000" stroke-width="1.15"/>
<line x1="370.00" y1="670.75" x2="370.00" y2="675.00" stroke="#000" stroke-width="1.15"/>
<line x1="365.70" y1="670.75" x2="374.30" y2="670.75" stroke="#000" stroke-width="1.2"/>
<line x1="395.00" y1="640.50" x2="395.00" y2="680.75" stroke="#000" stroke-width="1.15"/>
<line x1="390.70" y1="640.50" x2="399.30" y2="640.50" stroke="#000" stroke-width="1.2"/>
<line x1="390.70" y1="680.75" x2="399.30" y2="680.75" stroke="#000" stroke-width="1.2"/>
<rect x="444.40" y="526.50" width="26.20" height="164.90" fill="#000"/>
<rect x="470.40" y="525.60" width="25.10" height="165.40" fill="#fff" stroke="#000" stroke-width="1.15"/>
<line x1="458.20" y1="512.70" x2="458.20" y2="527.00" stroke="#000" stroke-width="1.15"/>
<line x1="453.90" y1="512.70" x2="462.50" y2="512.70" stroke="#000" stroke-width="1.2"/>
<line x1="482.60" y1="512.70" x2="482.60" y2="535.30" stroke="#000" stroke-width="1.15"/>
<line x1="478.30" y1="512.70" x2="486.90" y2="512.70" stroke="#000" stroke-width="1.2"/>
<line x1="478.30" y1="535.30" x2="486.90" y2="535.30" stroke="#000" stroke-width="1.2"/>
<rect x="342.5" y="506.2" width="16.8" height="15.6" fill="#000"/>
<rect x="343.00" y="533.00" width="15.80" height="14.20" fill="#fff" stroke="#000" stroke-width="1.1"/>
<text x="361.20" y="518.00" font-size="14.5" textLength="43.00" lengthAdjust="spacingAndGlyphs">control</text>
<text x="362.40" y="544.60" font-size="14.5" font-style="italic" textLength="74.00" lengthAdjust="spacingAndGlyphs">B henselae</text>
<text x="383.80" y="714.40" font-size="16" text-anchor="middle" textLength="21.40" lengthAdjust="spacingAndGlyphs" style="stroke-width:.6px">d 1</text>
<text x="472.00" y="714.30" font-size="16" text-anchor="middle" textLength="21.60" lengthAdjust="spacingAndGlyphs" style="stroke-width:.6px">d 9</text>
</svg>
</body>
</html>
